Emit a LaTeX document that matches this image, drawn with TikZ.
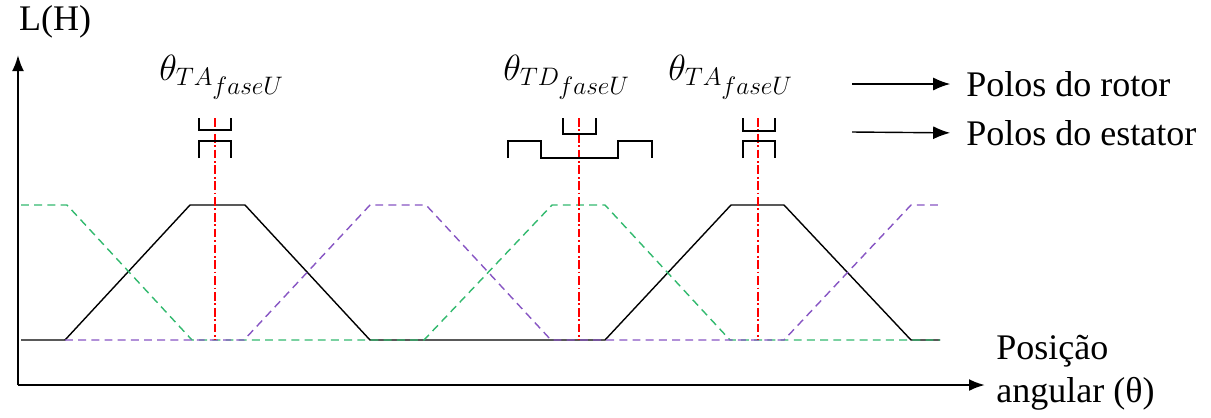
\documentclass[tikz,border=0pt]{standalone}
\usepackage{amsmath}
\usepackage{fontspec}
\setmainfont{Liberation Serif}
\usetikzlibrary{arrows.meta}
\definecolor{fasegreen}{RGB}{50,185,110}
\definecolor{fasepurple}{RGB}{135,85,195}
\tikzset{
  eixo/.style={line width=1.3pt, -{Latex[length=3.2mm,width=2.4mm]}},
  seta/.style={line width=0.8pt, -{Latex[length=3.4mm,width=2.6mm]}},
  fase/.style={line width=0.8pt},
  tracejado/.style={line width=0.8pt, dash pattern=on 4.5pt off 3pt},
  polo/.style={line width=1.4pt},
  alinha/.style={draw=red, line width=0.7pt, dash pattern=on 5pt off 1.5pt on 1pt off 1.5pt},
  rotulo/.style={font=\rmfamily\fontsize{20.5}{24.5}\selectfont, inner sep=0pt},
  teta/.style={font=\fontsize{21}{24}\selectfont, inner sep=0pt}
}

\begin{document}
\begin{tikzpicture}[x=0.02cm, y=-0.02cm]
        \useasboundingbox (0,0) rectangle (1211,417);

        % eixos
        \coordinate (O) at (18,385);
        \coordinate (Ytop) at (18,55);
        \coordinate (Xend) at (985,385);
        \draw[eixo] (O) -- (Ytop);
        \draw[eixo] (O) -- (Xend);
        \node[rotulo] (LH) at (55,22) {L(H)};
        \node[rotulo, anchor=west, align=left] (pos) at (996,373) {Posição\\angular (θ)};

        % legenda
        \node[rotulo, anchor=west] (rotor) at (966,84) {Polos do rotor};
        \node[rotulo, anchor=west] (estator) at (966,133) {Polos do estator};
        \coordinate (r0) at (852,84);
        \coordinate (e0) at (852,132);
        \draw[seta, shorten >=9pt] (r0) -- (rotor.west);
        \draw[seta, shorten >=9pt] (e0) -- (estator.west);

        % indutancias das fases
        \draw[fase] (21,340) -- (65,340) -- (190,205) -- (245,205) -- (370,340)
            -- (605,340) -- (731,205) -- (784,205) -- (911,340) -- (940,340);
        \draw[tracejado, fasegreen] (21,205) -- (67,205) -- (192,340) -- (424,340)
            -- (552,205) -- (605,205) -- (730,340) -- (940,340);
        \draw[tracejado, fasepurple] (65,340) -- (244,340) -- (370,205) -- (426,205)
            -- (551,340) -- (784,340) -- (911,205) -- (940,205);

        % alinhamentos
        \draw[alinha] (215,118) -- (215,340);
        \draw[alinha] (579,118) -- (579,340);
        \draw[alinha] (758,118) -- (758,340);

        % polos alinhados
        \draw[polo] (199,118) -- (199,130) -- (231,130) -- (231,118);
        \draw[polo] (199,158) -- (199,141) -- (231,141) -- (231,158);
        \draw[polo] (743,118) -- (743,131) -- (775,131) -- (775,118);
        \draw[polo] (743,158) -- (743,141) -- (775,141) -- (775,158);

        % polos desalinhados
        \draw[polo] (563,118) -- (563,134) -- (596,134) -- (596,118);
        \draw[polo] (508,158) -- (508,141) -- (541,141) -- (541,158) -- (618,158)
            -- (618,141) -- (652,141) -- (652,158);

        % posicoes
        \node[teta] (ta1) at (222,77) {$\theta_{TA_{\scriptstyle faseU}}$};
        \node[teta] (td) at (567,77) {$\theta_{TD_{\scriptstyle faseU}}$};
        \node[teta] (ta2) at (731,77) {$\theta_{TA_{\scriptstyle faseU}}$};
\end{tikzpicture}
\end{document}
